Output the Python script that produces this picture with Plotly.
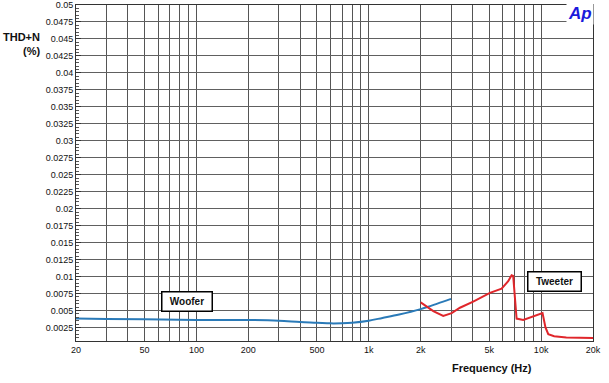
import plotly.graph_objects as go

# ---- data ----
woofer_freq = [20, 30, 50, 100, 200, 300, 400, 500, 600, 700, 800, 1000, 1200, 1500, 2000, 2500, 3000]
woofer_thdn = [0.0038, 0.00375, 0.0037, 0.0036, 0.0036, 0.0035, 0.0033, 0.0032, 0.0031, 0.00312, 0.0032,
               0.0035, 0.0039, 0.0044, 0.0052, 0.0060, 0.0067]

tweeter_freq = [2000, 2367, 2704, 3027, 3380, 4036, 5045, 5898, 6441, 6741, 6885, 7205, 7873, 10190,
                10600, 11000, 11900, 14000, 20000]
tweeter_thdn = [0.0062, 0.0049, 0.0042, 0.0046, 0.0054, 0.0063, 0.0076, 0.0082, 0.0093, 0.0102, 0.0101,
                0.0038, 0.0036, 0.0046, 0.0025, 0.0015, 0.0012, 0.001, 0.00095]

x_tick_vals = [20, 30, 40, 50, 60, 70, 80, 90, 100, 200, 300, 400, 500, 600, 700, 800, 900,
               1000, 2000, 3000, 4000, 5000, 6000, 7000, 8000, 9000, 10000, 20000]
x_tick_text = ["20", "", "", "50", "", "", "", "", "100", "200", "", "", "500", "", "", "", "",
               "1k", "2k", "", "", "5k", "", "", "", "", "10k", "20k"]

y_tick_vals = [0.0025 * i for i in range(1, 21)]
y_tick_text = ["0.0025", "0.005", "0.0075", "0.01", "0.0125", "0.015", "0.0175", "0.02", "0.0225",
               "0.025", "0.0275", "0.03", "0.0325", "0.035", "0.0375", "0.04", "0.0425", "0.045",
               "0.0475", "0.05"]

FONT = "Liberation Sans, Arial, sans-serif"

fig = go.Figure()
fig.add_trace(go.Scatter(x=woofer_freq, y=woofer_thdn, mode="lines", line=dict(color="#2a7ab8", width=2),
                         line_shape="spline", name="Woofer", showlegend=False))
fig.add_trace(go.Scatter(x=tweeter_freq, y=tweeter_thdn, mode="lines", line=dict(color="#e0262b", width=2),
                         name="Tweeter", showlegend=False))

fig.update_layout(
    width=609, height=383,
    margin=dict(l=76, r=16, t=5, b=42),
    paper_bgcolor="white", plot_bgcolor="white",
    font=dict(family=FONT, size=9, color="#111"),
    xaxis=dict(type="log", range=[1.30103, 4.30103], tickvals=x_tick_vals, ticktext=x_tick_text,
               automargin=False,
               showgrid=True, gridcolor="#555", gridwidth=1, showline=True, linecolor="#333",
               linewidth=1, mirror=True, ticks="", zeroline=False,
               tickfont=dict(family=FONT, size=9, color="#111")),
    yaxis=dict(range=[0.0005, 0.05], tickvals=y_tick_vals, ticktext=y_tick_text,
               automargin=False,
               showgrid=True, gridcolor="#606060", gridwidth=1, showline=True, linecolor="#333",
               linewidth=1, mirror=True, ticks="inside", ticklen=5, tickcolor="#333", zeroline=False,
               minor=dict(dtick=0.0005, tick0=0, ticks="inside", ticklen=3, tickcolor="#555", showgrid=False),
               tickfont=dict(family=FONT, size=9, color="#111")),
    annotations=[
        dict(text="<b>THD+N</b>", xref="paper", yref="paper", x=-0.106, y=0.905, showarrow=False,
             xanchor="center", yanchor="middle", font=dict(family=FONT, size=11, color="#111")),
        dict(text="<b>(%)</b>", xref="paper", yref="paper", x=-0.087, y=0.862, showarrow=False,
             xanchor="center", yanchor="middle", font=dict(family=FONT, size=11, color="#111")),
        dict(text="<b>Frequency (Hz)</b>", xref="paper", yref="paper", x=0.805, y=-0.08, showarrow=False,
             xanchor="center", yanchor="middle", font=dict(family=FONT, size=11, color="#111")),
        dict(text="<b><i>Ap</i></b>", xref="paper", yref="paper", x=0.975, y=0.975, showarrow=False,
             xanchor="center", yanchor="middle", bgcolor="white", font=dict(family=FONT, size=17, color="#1a1adb")),
        dict(text="<b>Woofer</b>", xref="paper", yref="paper", x=0.214, y=0.119, showarrow=False,
             xanchor="center", yanchor="middle", bgcolor="white", bordercolor="black", borderwidth=1.5,
             borderpad=4, width=41, height=10, font=dict(family=FONT, size=10, color="#111")),
        dict(text="<b>Tweeter</b>", xref="paper", yref="paper", x=0.925, y=0.177, showarrow=False,
             xanchor="center", yanchor="middle", bgcolor="white", bordercolor="black", borderwidth=1.5,
             borderpad=4, width=44, height=10, font=dict(family=FONT, size=10, color="#111")),
    ],
)

fig.write_html("out.html", config={"displayModeBar": False},
               post_script="document.body.style.margin='0';")
